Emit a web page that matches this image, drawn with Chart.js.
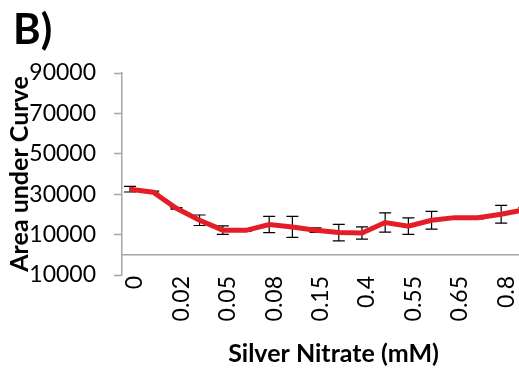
<!DOCTYPE html>
<html>
<head>
<meta charset="utf-8">
<script src="https://cdn.jsdelivr.net/npm/chart.js@4/dist/chart.umd.min.js"></script>
<style>
  html, body { margin: 0; padding: 0; background: #fff; overflow: hidden; }
  /* plot runs past the right edge of the window, as in the original */
  #box { width: 545px; height: 370px; }
</style>
</head>
<body>
<div id="box"><canvas id="aucChart"></canvas></div>
<script>
// Silver nitrate concentrations (mM); only every other one gets a label
const categories = ['0', '0.01', '0.02', '0.03', '0.05', '0.06', '0.08', '0.1', '0.15',
                    '0.3', '0.4', '0.5', '0.55', '0.6', '0.65', '0.7', '0.8', '0.9'];

// Area under curve
const aucValues = [32500, 31000, 23000, 17100, 12200, 12100, 15000, 13800, 12200,
                   11000, 10800, 16000, 14200, 17100, 18400, 18300, 20100, 22300];

// +/- error for each point
const aucErrors = [1400, 500, 400, 2600, 2100, 400, 4000, 5200, 1100,
                   4100, 3000, 4800, 4100, 4400, 300, 500, 4400, 1200];

const yMin = -10000;
const yMax = 90000;
const yStep = 20000;

const axisGrey = '#a6a6a6';

// zero line + error bars, drawn under the red line
const errorBars = {
    id: 'errorBars',
    beforeDatasetsDraw(chart) {
        const { ctx, chartArea, scales } = chart;
        ctx.save();

        // horizontal line at y = 0
        const y0 = scales.y.getPixelForValue(0);
        ctx.strokeStyle = axisGrey;
        ctx.lineWidth = 1.5;
        ctx.beginPath();
        ctx.moveTo(chartArea.left, y0);
        ctx.lineTo(chartArea.right, y0);
        ctx.stroke();

        ctx.beginPath();
        ctx.rect(chartArea.left, chartArea.top, chartArea.right - chartArea.left, chartArea.bottom - chartArea.top);
        ctx.clip();
        ctx.strokeStyle = '#000';
        ctx.lineWidth = 1.2;
        aucValues.forEach((v, i) => {
            const x = scales.x.getPixelForValue(i);
            const top = scales.y.getPixelForValue(v + aucErrors[i]);
            const bot = scales.y.getPixelForValue(v - aucErrors[i]);
            ctx.beginPath();
            ctx.moveTo(x, top); ctx.lineTo(x, bot);
            ctx.moveTo(x - 6, top); ctx.lineTo(x + 6, top);
            ctx.moveTo(x - 6, bot); ctx.lineTo(x + 6, bot);
            ctx.stroke();
        });
        ctx.restore();
    }
};

const ctx = document.getElementById('aucChart').getContext('2d');

new Chart(ctx, {
    type: 'line',
    data: {
        datasets: [{
            data: aucValues.map((v, i) => ({ x: i, y: v })),
            borderColor: '#e31e26',
            borderWidth: 5,
            pointRadius: 0,
            tension: 0,
            fill: false
        }]
    },
    options: {
        responsive: true,
        maintainAspectRatio: false,
        animation: false,
        layout: { padding: { left: 13, right: 0, top: 0, bottom: 0 } },
        plugins: {
            legend: { display: false },
            tooltip: { enabled: false },
            title: {
                display: true,
                text: 'B)',
                align: 'start',
                color: '#000',
                font: { family: 'Lato', size: 42, weight: 'bold', lineHeight: 1 },
                padding: { top: 9, bottom: 22 }
            }
        },
        scales: {
            x: {
                type: 'linear',
                position: 'bottom',
                min: -0.345,
                max: 17.89,
                border: { display: false },
                grid: { display: false },
                ticks: {
                    stepSize: 2,
                    includeBounds: false,
                    autoSkip: false,
                    minRotation: 90,
                    maxRotation: 90,
                    padding: -7,
                    labelOffset: 5,
                    color: '#000',
                    font: { family: 'Lato', size: 23 },
                    callback: (v) => categories[v] ?? ''
                },
                title: {
                    display: true,
                    text: 'Silver Nitrate (mM)',
                    color: '#000',
                    font: { family: 'Lato', size: 25, weight: 'bold', lineHeight: 1 },
                    padding: { top: 0, bottom: 3.5 }
                },
                afterFit: (scale) => { scale.height = 95; }
            },
            y: {
                min: yMin,
                max: yMax,
                border: { display: true, color: axisGrey, width: 1.5 },
                grid: {
                    drawOnChartArea: false,
                    tickColor: axisGrey,
                    tickLength: 8,
                    tickWidth: 1.5
                },
                ticks: {
                    stepSize: yStep,
                    padding: 18,
                    color: '#000',
                    font: { family: 'Lato', size: 23 },
                    callback: (v) => String(Math.abs(v))
                },
                title: {
                    display: true,
                    text: 'Area under Curve',
                    color: '#000',
                    font: { family: 'Lato', size: 25, weight: 'bold', lineHeight: 0.5 },
                    padding: { top: 0.75, bottom: 0 }
                },
                afterFit: (scale) => { scale.width = 109; }
            }
        }
    },
    plugins: [errorBars]
});
</script>
</body>
</html>
